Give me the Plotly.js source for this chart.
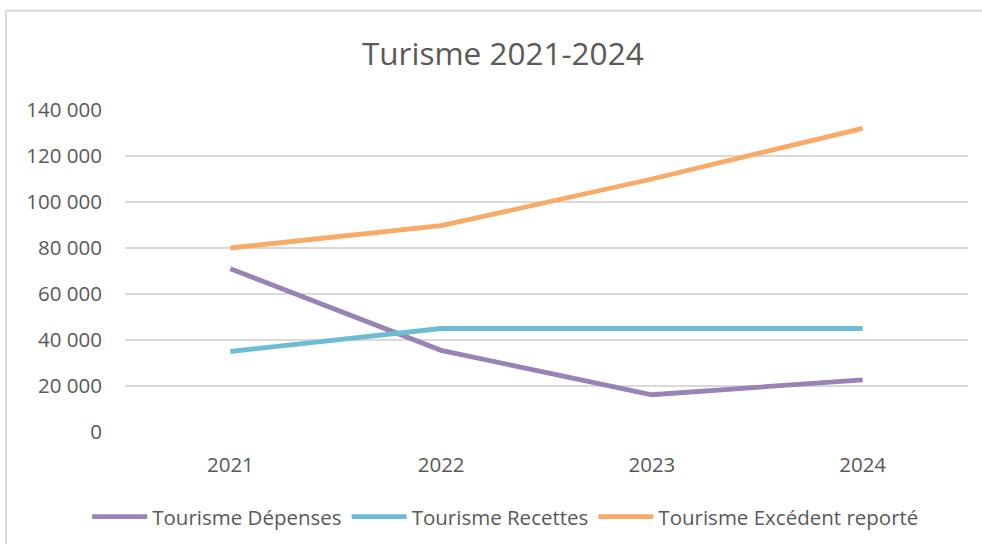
<!DOCTYPE html>
<html>
<head>
<meta charset="utf-8">
<script src="https://cdn.plot.ly/plotly-3.0.1.min.js"></script>
<style>
html,body{margin:0;padding:0;background:#fff;}
#chart{width:982px;height:544px;}
</style>
</head>
<body>
<div id="chart"></div>
<script>
var years = ["2021", "2022", "2023", "2024"];
var depenses = [71000, 35500, 16200, 22700];
var recettes = [35000, 45000, 45000, 45000];
var excedent = [80000, 89700, 110000, 132000];
var seriesNames = ["Tourisme Dépenses", "Tourisme Recettes", "Tourisme Excédent reporté"];
var seriesColors = ["#9882b6", "#6cbdd2", "#f9aa66"];
var yTicks = [0, 20000, 40000, 60000, 80000, 100000, 120000, 140000];
var yTickText = ["0", "20 000", "40 000", "60 000", "80 000", "100 000", "120 000", "140 000"];

var font = "Open Sans, Noto Sans, sans-serif";
var values = [depenses, recettes, excedent];
var traces = values.map(function (v, i) {
  return {
    type: "scatter", mode: "lines", x: years, y: v, name: seriesNames[i],
    line: {color: seriesColors[i], width: 4.8}
  };
});

var layout = {
  width: 982, height: 544,
  margin: {l: 125, r: 14, t: 110, b: 112, autoexpand: false},
  paper_bgcolor: "#fff", plot_bgcolor: "#fff",
  font: {family: font, color: "#595959", size: 20},
  title: {text: "Turisme 2021-2024", font: {family: font, size: 31.5, color: "#595959"},
          x: 0.512, xanchor: "center", y: 0.9, yanchor: "middle", yref: "container"},
  xaxis: {type: "category", range: [-0.5, 3.5], showgrid: false, zeroline: false,
          showline: false, ticks: "outside", ticklen: 14, tickcolor: "rgba(0,0,0,0)",
          tickfont: {size: 20.5, color: "#595959"}, fixedrange: true},
  yaxis: {range: [0, 140000], tickvals: yTicks, ticktext: yTickText,
          showgrid: true, gridcolor: "#d9d9d9", gridwidth: 1.5, zeroline: false,
          showline: false, ticks: "outside", ticklen: 18, tickcolor: "rgba(0,0,0,0)",
          tickfont: {size: 20.5, color: "#595959"}, fixedrange: true},
  showlegend: true,
  legend: {orientation: "h", x: 0.515, xanchor: "center", xref: "container",
           y: 0.05, yanchor: "middle", yref: "container",
           font: {size: 20.5, color: "#595959"}, itemwidth: 55, tracegroupgap: 0,
           bgcolor: "rgba(0,0,0,0)"},
  shapes: [
    {type: "line", xref: "paper", yref: "paper", x0: -0.1412, x1: -0.1412, y0: -0.5, y1: 1.308,
     line: {color: "#d9d9d9", width: 2}},
    {type: "line", xref: "paper", yref: "paper", x0: -0.1412, x1: 1.1, y0: 1.308, y1: 1.308,
     line: {color: "#d9d9d9", width: 2}}
  ]
};

Plotly.newPlot("chart", traces, layout, {displayModeBar: false, staticPlot: true});
</script>
</body>
</html>
